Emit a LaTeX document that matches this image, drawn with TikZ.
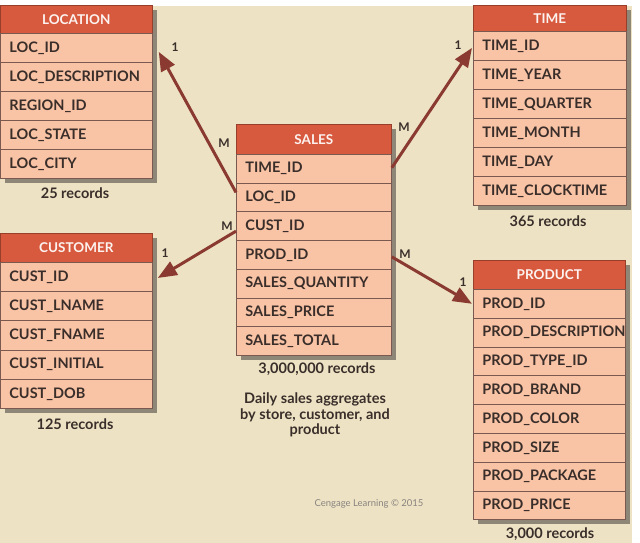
\documentclass[tikz,border=0pt]{standalone}
\usepackage{fontspec}
\setmainfont{Lato}
\usetikzlibrary{arrows.meta}
\definecolor{bgc}{HTML}{EDE3C4}
\definecolor{hdrc}{HTML}{D85A3E}
\definecolor{rowfill}{HTML}{F9C3A5}
\definecolor{linec}{HTML}{7A5A50}
\definecolor{txtc}{HTML}{3A2E2A}
\definecolor{relc}{HTML}{8A3A30}
\definecolor{shadowc}{HTML}{8E8676}
\tikzset{
  x=1pt, y=-1pt,
  hdr/.style={rectangle, fill=hdrc, draw=hdrc!70!black, line width=0.6pt, text=white!92!hdrc,
    font=\fontsize{13.5}{14}\selectfont\bfseries, inner sep=0pt},
  rowc/.style={rectangle, fill=rowfill, draw=linec, line width=0.8pt, text=txtc,
    font=\fontsize{14.5}{16}\selectfont\bfseries, inner xsep=9pt, inner ysep=0pt, align=left},
  rel/.style={draw=relc, line width=3pt, -{Triangle[length=19pt,width=15pt]}},
  card/.style={text=txtc, font=\fontsize{12}{13}\selectfont\bfseries, inner sep=1pt},
  recs/.style={text=txtc, font=\fontsize{14.5}{15.5}\selectfont\bfseries, align=center},
}
% #1 name, #2 x, #3 y, #4 width, #5 header height, #6 row height, #7 header, #8 rows
\newcommand{\ertab}[8]{%
  \foreach \r [count=\i] in {#8} {\xdef\nrowsx{\i}}%
  \pgfmathsetmacro\totx{#5+\nrowsx*#6}%
  \fill[shadowc] (#2+5,#3+5) rectangle (#2+#4+5,#3+\totx+5);
  \node[hdr, minimum width=#4, minimum height=#5, anchor=north west] (#1) at (#2,#3) {#7};
  \foreach \r [count=\i] in {#8} {
    \node[rowc, minimum width=#4, minimum height=#6, text width=#4-18, anchor=north west]
      (#1-\i) at (#2, {#3+#5+(\i-1)*#6}) {\r};
  }%
}
\begin{document}
\begin{tikzpicture}
\useasboundingbox (0,0) rectangle (640,543);
\fill[white] (0,0) rectangle (640,543);
\fill[bgc] (0,6) rectangle (632,543);

\ertab{loc}{0}{5}{152}{28}{29}{LOCATION}{LOC\_ID,LOC\_DESCRIPTION,REGION\_ID,LOC\_STATE,LOC\_CITY}
\ertab{time}{473}{5}{153}{26}{29}{TIME}{TIME\_ID,TIME\_YEAR,TIME\_QUARTER,TIME\_MONTH,TIME\_DAY,TIME\_CLOCKTIME}
\ertab{sales}{236}{124}{155}{30}{28.7}{SALES}{TIME\_ID,LOC\_ID,CUST\_ID,PROD\_ID,SALES\_QUANTITY,SALES\_PRICE,SALES\_TOTAL}
\ertab{cust}{0}{233}{152}{29}{29.2}{CUSTOMER}{CUST\_ID,CUST\_LNAME,CUST\_FNAME,CUST\_INITIAL,CUST\_DOB}
\ertab{prod}{473}{260}{152}{29}{28.8}{PRODUCT}{PROD\_ID,PROD\_DESCRIPTION,PROD\_TYPE\_ID,PROD\_BRAND,PROD\_COLOR,PROD\_SIZE,PROD\_PACKAGE,PROD\_PRICE}

\node[recs] (locrec) at (75,193) {25 records};
\node[recs] (timerec) at (548,221) {365 records};
\node[recs] (salesrec) at (317,369) {3,000,000 records};
\node[recs] (salesnote) at (315,415) {Daily sales aggregates\\by store, customer, and\\product};
\node[recs] (custrec) at (75,424) {125 records};
\node[recs] (prodrec) at (550,534) {3,000 records};
\node[text=txtc!60, font=\fontsize{9.5}{10}\selectfont] (copy) at (369,504) {Cengage Learning © 2015};

\draw[rel] ([yshift=5pt]sales-2.west) -- ([xshift=6pt,yshift=-4pt]loc-1.east);
\draw[rel] ([yshift=1pt]sales-1.east) -- ([xshift=-1pt,yshift=-2pt]time-1.west);
\draw[rel] ([yshift=-5pt]sales-3.west) -- ([xshift=5pt,yshift=-1pt]cust-1.east);
\draw[rel] ([yshift=-2pt]sales-4.east) -- ([xshift=-1pt]prod-1.west);

\node[card] (c1) at (175,47) {1};
\node[card] (m1) at (224,143) {M};
\node[card] (c2) at (458,45) {1};
\node[card] (m2) at (404,127) {M};
\node[card] (c3) at (165,253) {1};
\node[card] (m3) at (227,226) {M};
\node[card] (c4) at (463,282) {1};
\node[card] (m4) at (405,254) {M};
\end{tikzpicture}
\end{document}
